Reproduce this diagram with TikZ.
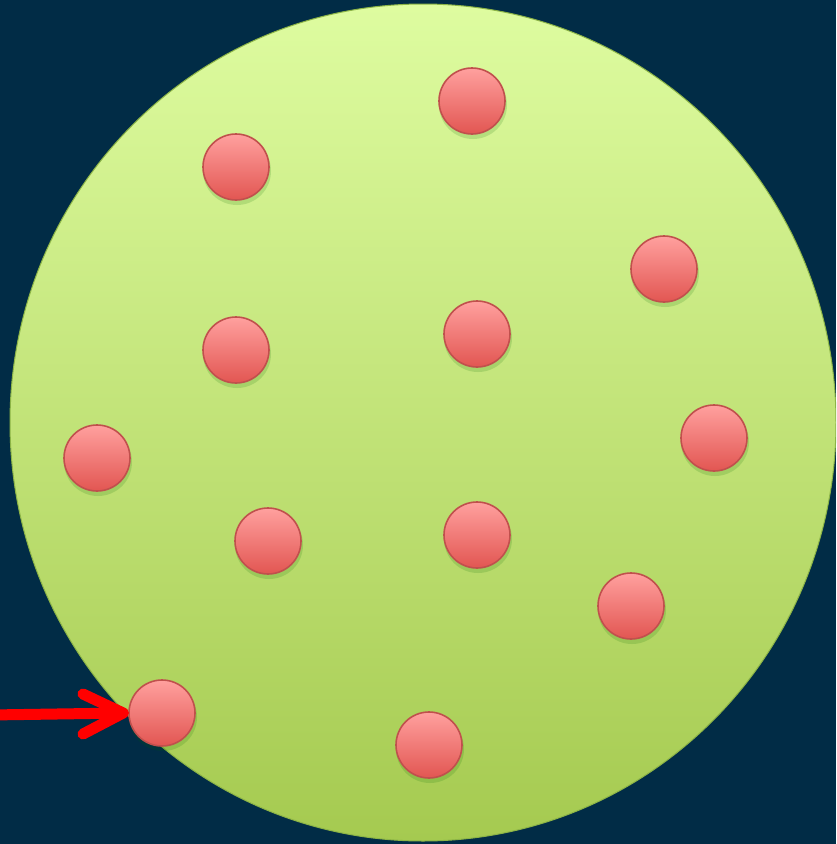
\documentclass[tikz,border=0pt]{standalone}
\usetikzlibrary{arrows.meta,shapes.geometric}
\definecolor{bgnavy}{RGB}{1,44,70}
\definecolor{greentop}{RGB}{222,252,160}
\definecolor{greenbot}{RGB}{165,202,80}
\definecolor{greenedge}{RGB}{140,180,70}
\definecolor{balltop}{RGB}{255,160,158}
\definecolor{ballbot}{RGB}{226,86,82}
\definecolor{balledge}{RGB}{192,80,77}
\tikzset{
  ball/.style={circle, minimum size=66pt, inner sep=0pt, draw=balledge, line width=1.6pt,
    top color=balltop, bottom color=ballbot},
  ballshadow/.style={fill=black!60!green, opacity=0.15},
  pointer/.style={draw=red, line width=11pt, line cap=round, line join=round}
}
\begin{document}
\begin{tikzpicture}[x=1pt,y=-1pt]
\fill[bgnavy] (0,0) rectangle (836,844);
\useasboundingbox (0,0) rectangle (836,844);
\begin{scope}
\clip (0,0) rectangle (836,844);
\node[ellipse, minimum width=826pt, minimum height=837pt, inner sep=0pt, draw=greenedge, line width=1pt,
  top color=greentop, bottom color=greenbot] (world) at (423,422.5) {};
\end{scope}
\foreach \n/\x/\y in {a/472/101, b/236/167, c/664/269, d/236/350, e/477/334, f/97/458,
  g/714/438, h/268/541, i/477/535, j/631/606, k/162/713, l/429/745} {
  \fill[ballshadow] (\x+1,\y+4) circle (34);
}
\foreach \n/\x/\y in {a/472/101, b/236/167, c/664/269, d/236/350, e/477/334, f/97/458,
  g/714/438, h/268/541, i/477/535, j/631/606, k/162/713, l/429/745} {
  \node[ball] (\n) at (\x,\y) {};
}
\coordinate (tail) at (-10,715);
\coordinate (tip) at ([xshift=-5pt]k.west);
\coordinate (armup) at (83,694);
\coordinate (armdown) at (83,734);
\draw[pointer] (tail) -- (tip);
\draw[pointer] (armup) -- (tip) -- (armdown);
\end{tikzpicture}
\end{document}
